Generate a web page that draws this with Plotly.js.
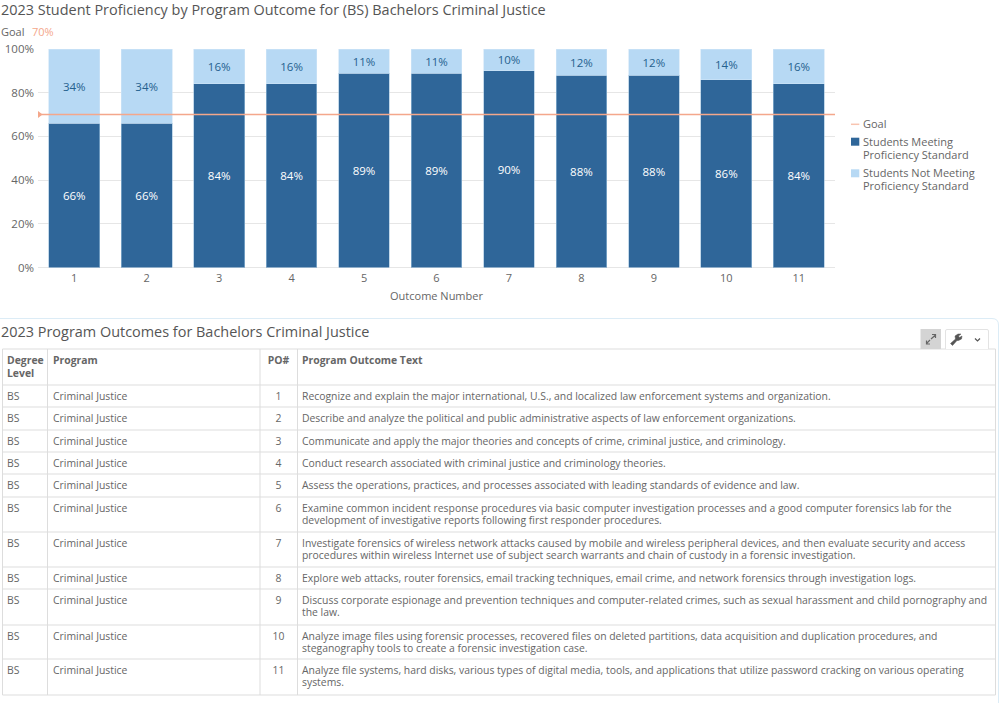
<!DOCTYPE html>
<html><head><meta charset="utf-8">
<script src="https://cdn.plot.ly/plotly-3.0.1.min.js"></script>
<style>html,body{margin:0;padding:0;background:#fff}#c{width:1003px;height:703px}</style>
</head><body><div id="c"></div>
<script>
const outcomes=[1,2,3,4,5,6,7,8,9,10,11];
const meeting=[66,66,84,84,89,89,90,88,88,86,84];
const notMeeting=[34,34,16,16,11,11,10,12,12,14,16];
const goalX=[0.5,11.5];
const goalY=[70,70];
const yTicks=[0,20,40,60,80,100];
const yTickLabels=["0%","20%","40%","60%","80%","100%"];
const degree=["BS","BS","BS","BS","BS","BS","BS","BS","BS","BS","BS"];
const program=["Criminal Justice","Criminal Justice","Criminal Justice","Criminal Justice","Criminal Justice","Criminal Justice","Criminal Justice","Criminal Justice","Criminal Justice","Criminal Justice","Criminal Justice"];
const outcomeText=[
["Recognize and explain the major international, U.S., and localized law enforcement systems and organization."],
["Describe and analyze the political and public administrative aspects of law enforcement organizations."],
["Communicate and apply the major theories and concepts of crime, criminal justice, and criminology."],
["Conduct research associated with criminal justice and criminology theories."],
["Assess the operations, practices, and processes associated with leading standards of evidence and law."],
["Examine common incident response procedures via basic computer investigation processes and a good computer forensics lab for the","development of investigative reports following first responder procedures."],
["Investigate forensics of wireless network attacks caused by mobile and wireless peripheral devices, and then evaluate security and access","procedures within wireless Internet use of subject search warrants and chain of custody in a forensic investigation."],
["Explore web attacks, router forensics, email tracking techniques, email crime, and network forensics through investigation logs."],
["Discuss corporate espionage and prevention techniques and computer-related crimes, such as sexual harassment and child pornography and","the law."],
["Analyze image files using forensic processes, recovered files on deleted partitions, data acquisition and duplication procedures, and","steganography tools to create a forensic investigation case."],
["Analyze file systems, hard disks, various types of digital media, tools, and applications that utilize password cracking on various operating","systems."]];
const headerLines=[["Degree","Level"],["Program"],["PO#"],["Program Outcome Text"]];
const legendGoal="Goal";
const legendMeeting=["Students Meeting","Proficiency Standard"];
const legendNot=["Students Not Meeting","Proficiency Standard"];

const W=1003,H=703,F='"Open Sans", sans-serif',G='#666',TS=10.4,LINE=12.5;
const px=v=>v/W, py=v=>1-v/H;
const pct=a=>a.map(v=>v+'%');
const colEdges=[2.5,47.5,260,297.5,995.5];
const rowEdges=[349,385,407,430,452,474,497,532,567,589,625,659,695];
const colText=[7,53,278.5,302];
const colAlign=['middle right','middle right','middle center','middle right'];
const off=12;

function col(i,rowsOfLines){
  const x=[],y=[],t=[];
  rowsOfLines.forEach((ls,r)=>ls.forEach((s,k)=>{x.push(colText[i]);y.push(rowEdges[r+1]+off+k*LINE);t.push(s);}));
  return {type:'scatter',mode:'text',xaxis:'x2',yaxis:'y2',x,y,text:t,textposition:colAlign[i],cliponaxis:false,
    textfont:{family:F,size:TS,color:G},hoverinfo:'skip'};
}
function headerCol(i){
  const x=[],y=[],t=[];
  headerLines[i].forEach((s,k)=>{x.push(colText[i]);y.push(rowEdges[0]+12.5+k*13);t.push('<b>'+s+'</b>');});
  return {type:'scatter',mode:'text',xaxis:'x2',yaxis:'y2',x,y,text:t,textposition:colAlign[i],cliponaxis:false,
    textfont:{family:F,size:TS,color:G},hoverinfo:'skip'};
}
const traces=[
{type:'bar',name:'Students Meeting Proficiency Standard',x:outcomes,y:meeting,width:0.7,text:pct(meeting),textposition:'inside',insidetextanchor:'middle',textangle:0,
 textfont:{color:'#ffffff',size:11.5,family:F},marker:{color:'#2f6699',line:{color:'#9dbfdc',width:0.6}},hoverinfo:'skip'},
{type:'bar',name:'Students Not Meeting Proficiency Standard',x:outcomes,y:notMeeting,width:0.7,text:pct(notMeeting),textposition:'inside',insidetextanchor:'middle',textangle:0,
 textfont:{color:'#25618f',size:11.5,family:F},marker:{color:'#b7d9f4',line:{color:'#cfe4f6',width:0.6}},hoverinfo:'skip'},
{type:'scatter',mode:'lines',name:'Goal',x:goalX,y:goalY,line:{color:'#f4a78b',width:1.5},hoverinfo:'skip'},
headerCol(0),headerCol(1),headerCol(2),headerCol(3),
col(0,degree.map(s=>[s])),col(1,program.map(s=>[s])),col(2,outcomes.map(s=>[String(s)])),col(3,outcomeText)
];
const note=(x,y,text,size,color,anchor)=>({xref:'paper',yref:'paper',x:px(x),y:py(y),xanchor:anchor||'left',yanchor:'middle',text,showarrow:false,font:{family:F,size,color},align:'left',borderpad:0,borderwidth:0});
const line=(x0,y0,x1,y1)=>({type:'line',xref:'x2',yref:'y2',x0,y0,x1,y1,line:{color:'#dddddd',width:1},layer:'below'});
const tableShapes=[
 ...colEdges.map(x=>line(x,rowEdges[0],x,rowEdges[rowEdges.length-1])),
 ...rowEdges.map(y=>line(colEdges[0],y,colEdges[4],y))
];
const layout={width:W,height:H,margin:{l:0,r:0,t:0,b:0},paper_bgcolor:'#fff',plot_bgcolor:'rgba(0,0,0,0)',barmode:'stack',showlegend:false,
 font:{family:F,color:G},
 xaxis:{domain:[px(38),px(835)],anchor:'y',range:[0.5,11.5],tickmode:'array',tickvals:outcomes,showgrid:false,zeroline:false,showline:false,ticks:'',ticklabelstandoff:2,
  tickfont:{family:F,size:11,color:G},title:{text:'Outcome Number',font:{family:F,size:11,color:G},standoff:8}},
 yaxis:{domain:[py(267.5),py(49)],anchor:'x',range:[0,100],tickmode:'array',tickvals:yTicks,ticktext:yTickLabels,gridcolor:'#e6e6e6',gridwidth:1,zeroline:true,zerolinecolor:'#e6e6e6',showline:false,
  tickfont:{family:F,size:11.5,color:G},ticks:'',ticklabelstandoff:3},
 xaxis2:{domain:[0,1],range:[0,W],visible:false,fixedrange:true,anchor:'y2'},
 yaxis2:{domain:[0,1],range:[H,0],visible:false,fixedrange:true,anchor:'x2'},
 annotations:[
  note(1,9.5,'2023 Student Proficiency by Program Outcome for (BS) Bachelors Criminal Justice',14.45,'#555'),
  note(1,31,'Goal',11,G),
  note(32,31,'70%',11,'#f4a78b'),
  note(1,331.5,'2023 Program Outcomes for Bachelors Criminal Justice',14.45,'#555'),
  note(863,123.5,legendGoal,11,G),
  note(863,141.5,legendMeeting[0],11,G),
  note(863,154.5,legendMeeting[1],11,G),
  note(863,172.5,legendNot[0],11,G),
  note(863,185.5,legendNot[1],11,G)
 ],
 shapes:[
  ...tableShapes,
  {type:'line',xref:'paper',yref:'paper',x0:px(851),x1:px(859.3),y0:py(124.3),y1:py(124.3),line:{color:'#f8c4b0',width:1.5}},
  {type:'rect',xref:'paper',yref:'paper',x0:px(851),x1:px(859.3),y0:py(137.7),y1:py(145.7),fillcolor:'#2f6699',line:{width:0}},
  {type:'rect',xref:'paper',yref:'paper',x0:px(851),x1:px(859.3),y0:py(169.3),y1:py(177.3),fillcolor:'#b7d9f4',line:{width:0}},
  {type:'path',xref:'paper',yref:'paper',path:`M ${px(38)} ${py(111)} L ${px(42.5)} ${py(114.5)} L ${px(38)} ${py(118)} Z`,fillcolor:'#f4a78b',line:{width:0}},
  {type:'path',xref:'paper',yref:'paper',path:`M 0 ${py(318.5)} L ${px(992)} ${py(318.5)} Q ${px(998.5)} ${py(318.5)} ${px(998.5)} ${py(325)} L ${px(998.5)} ${py(703)}`,line:{color:'#dcecf6',width:1}},
  {type:'rect',xref:'paper',yref:'paper',x0:px(920.5),x1:px(941),y0:py(329),y1:py(349),fillcolor:'#d4d4d4',line:{width:0}},
  {type:'path',xref:'paper',yref:'paper',path:`M ${px(945.5)} ${py(349)} L ${px(945.5)} ${py(331)} Q ${px(945.5)} ${py(329.5)} ${px(947)} ${py(329.5)} L ${px(987)} ${py(329.5)} Q ${px(988.5)} ${py(329.5)} ${px(988.5)} ${py(331)} L ${px(988.5)} ${py(349)}`,fillcolor:'#fff',line:{color:'#e3e3e3',width:1}},
  {type:'path',xref:'paper',yref:'paper',path:`M ${px(931)} ${py(339)} L ${px(935.5)} ${py(335)} M ${px(932)} ${py(334.5)} L ${px(935.5)} ${py(334.5)} L ${px(935.5)} ${py(338)} M ${px(930)} ${py(340)} L ${px(926.5)} ${py(343.5)} M ${px(926.5)} ${py(340.5)} L ${px(926.5)} ${py(344)} L ${px(930)} ${py(344)}`,line:{color:'#666',width:1.2}},
  {type:'path',xref:'paper',yref:'paper',path:`M ${px(950.5)} ${py(343.5)} L ${px(955.5)} ${py(339)} L ${px(955)} ${py(336)} L ${px(958)} ${py(334)} L ${px(961)} ${py(334)} L ${px(958.5)} ${py(336)} L ${px(959.5)} ${py(337.5)} L ${px(962)} ${py(336)} L ${px(961.5)} ${py(339)} L ${px(958.5)} ${py(340.5)} L ${px(957)} ${py(340.5)} L ${px(952.5)} ${py(345.5)} Z`,fillcolor:'#555',line:{color:'#555',width:0.5}},
  {type:'path',xref:'paper',yref:'paper',path:`M ${px(975)} ${py(338.5)} L ${px(977.5)} ${py(341)} L ${px(980)} ${py(338.5)}`,line:{color:'#555',width:1.2}}
 ]};
Plotly.newPlot('c',traces,layout,{displayModeBar:false});
</script></body></html>
